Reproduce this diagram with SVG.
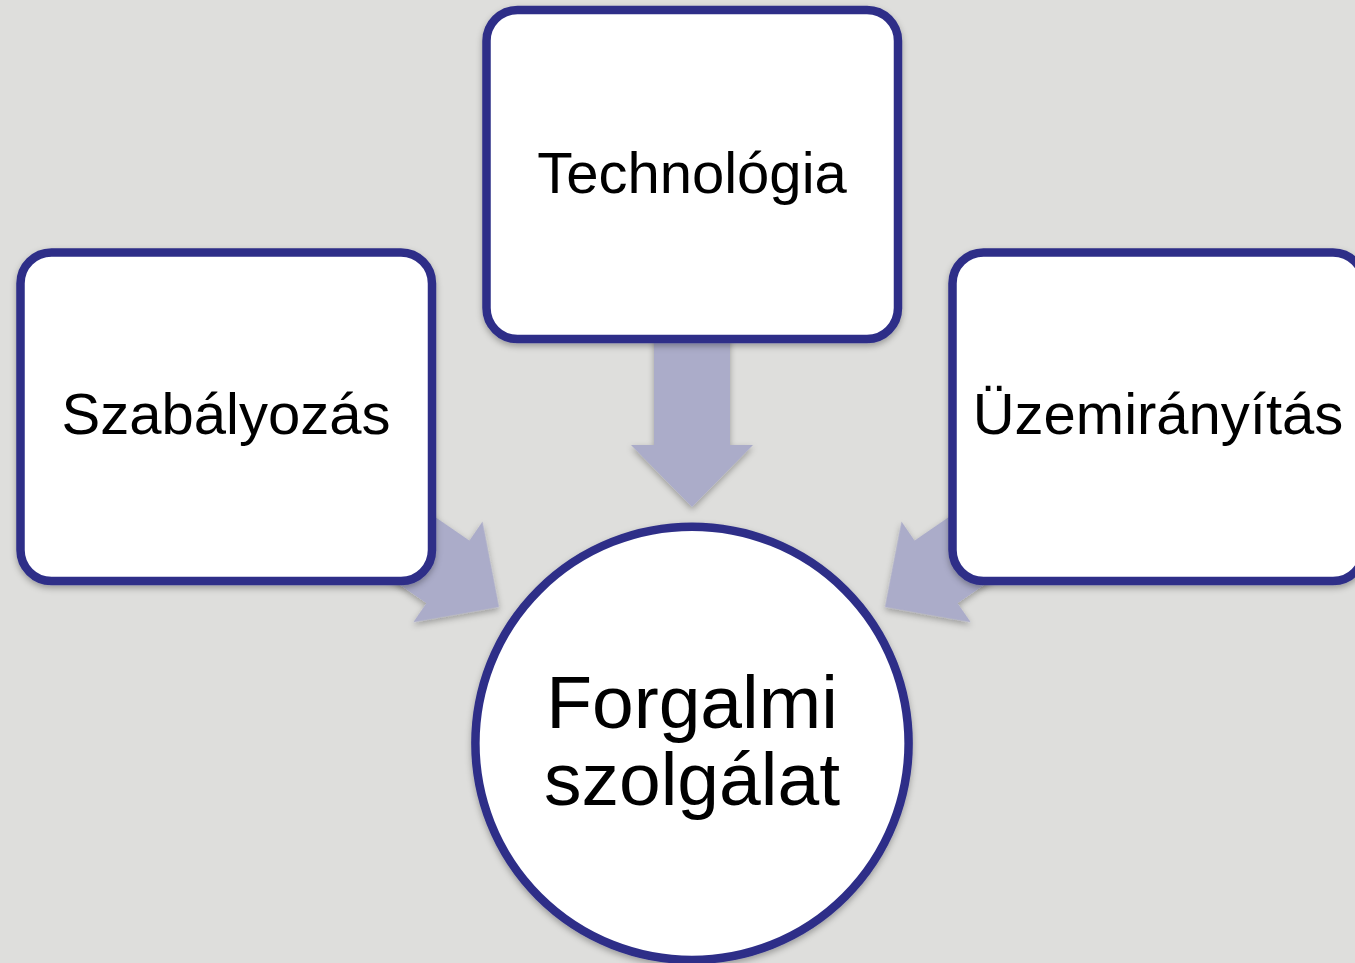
<svg xmlns="http://www.w3.org/2000/svg" width="1355" height="963" viewBox="0 0 1355 963">
  <defs>
    <style>
      .box { fill: #ffffff; stroke: #2E2F88; stroke-width: 8.5; }
      .arrow { fill: #ABACC9; }
      .label { font-family: "Liberation Sans", Arial, sans-serif; fill: #000000; text-anchor: middle; }
    </style>
    <filter id="shadow" x="-10%" y="-10%" width="120%" height="125%">
      <feDropShadow dx="0" dy="3" stdDeviation="3" flood-color="#000000" flood-opacity="0.3"/>
    </filter>
    <polygon id="arrowShape" points="-38,-200 38,-200 38,-62 61,-62 0,0 -61,-62 -38,-62"/>
  </defs>
  <rect x="0" y="0" width="1355" height="963" fill="#DEDEDC"/>

  <g id="connectors" filter="url(#shadow)">
    <use href="#arrowShape" class="arrow" transform="translate(692,507)"/>
    <use href="#arrowShape" class="arrow" transform="translate(499,607) rotate(-55.5)"/>
    <use href="#arrowShape" class="arrow" transform="translate(885,607) rotate(55.5)"/>
  </g>

  <g id="node-technologia" filter="url(#shadow)">
    <rect class="box" x="486.5" y="10" width="411.5" height="329" rx="31" ry="31"/>
    <text class="label" x="692" y="193" font-size="58">Technológia</text>
  </g>

  <g id="node-szabalyozas" filter="url(#shadow)">
    <rect class="box" x="20.5" y="252.5" width="411.5" height="328.5" rx="31" ry="31"/>
    <text class="label" x="226" y="434" font-size="58">Szabályozás</text>
  </g>

  <g id="node-uzemiranyitas" filter="url(#shadow)">
    <rect class="box" x="952.5" y="252.5" width="411.5" height="328.5" rx="31" ry="31"/>
    <text class="label" x="1158" y="434" font-size="58">Üzemirányítás</text>
  </g>

  <g id="node-forgalmi-szolgalat" filter="url(#shadow)">
    <circle class="box" cx="692" cy="743.3" r="216.6"/>
    <text class="label" x="692" y="728" font-size="75">Forgalmi</text>
    <text class="label" x="692" y="805" font-size="75">szolgálat</text>
  </g>
</svg>
